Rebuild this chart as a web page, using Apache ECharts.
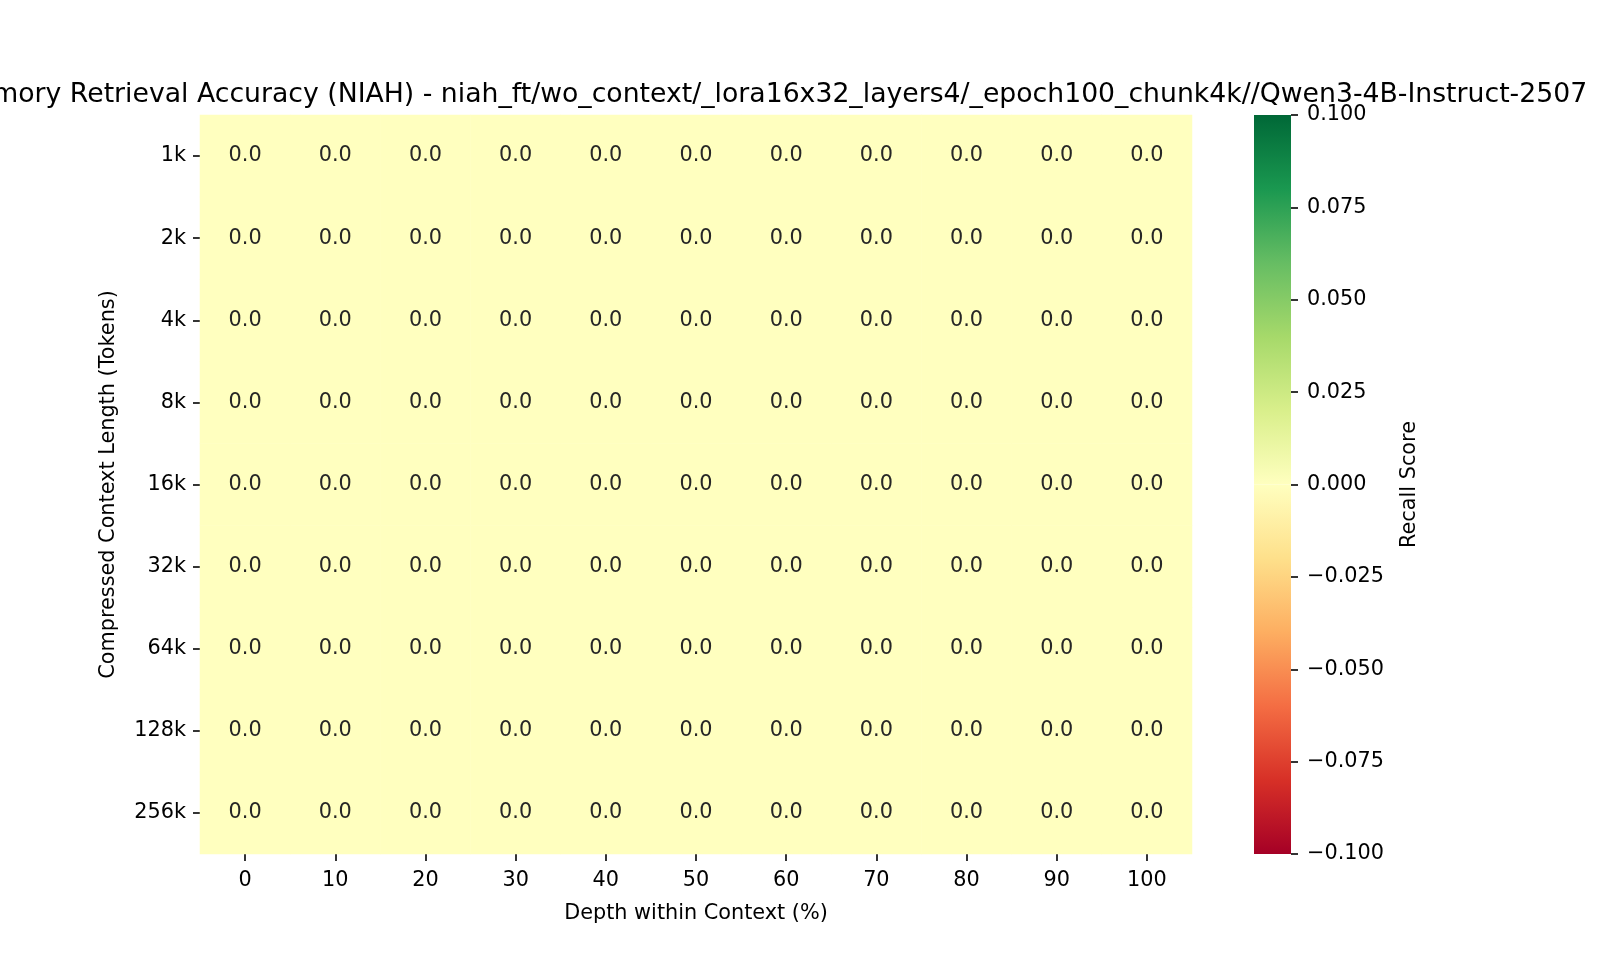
<!DOCTYPE html>
<html><head><meta charset="utf-8">
<script src="https://cdn.jsdelivr.net/npm/echarts@6/dist/echarts.min.js"></script>
<style>html,body{margin:0;padding:0;background:#fff}#c{width:1600px;height:960px}</style>
</head><body><div id="c"></div>
<script>
const titleText = 'Memory Retrieval Accuracy (NIAH) - niah_ft/wo_context/_lora16x32_layers4/_epoch100_chunk4k//Qwen3-4B-Instruct-2507';
const depths = ['0','10','20','30','40','50','60','70','80','90','100'];
const lengths = ['1k','2k','4k','8k','16k','32k','64k','128k','256k'];
// recall scores, rows = lengths, cols = depths
const scores = [
  [0,0,0,0,0,0,0,0,0,0,0],
  [0,0,0,0,0,0,0,0,0,0,0],
  [0,0,0,0,0,0,0,0,0,0,0],
  [0,0,0,0,0,0,0,0,0,0,0],
  [0,0,0,0,0,0,0,0,0,0,0],
  [0,0,0,0,0,0,0,0,0,0,0],
  [0,0,0,0,0,0,0,0,0,0,0],
  [0,0,0,0,0,0,0,0,0,0,0],
  [0,0,0,0,0,0,0,0,0,0,0]
];
const cbMin = -0.1, cbMax = 0.1, cbStep = 0.025;
const rdylgn = ['#a50026','#d73027','#f46d43','#fdae61','#fee08b','#ffffbf','#d9ef8b','#a6d96a','#66bd63','#1a9850','#006837'];

const data = [];
scores.forEach((row, r) => row.forEach((v, c) => data.push([c, r, v])));

function grad(colors) { // colors listed top -> bottom
  return new echarts.graphic.LinearGradient(0, 0, 0, 1,
    colors.map((c, i) => ({offset: i / (colors.length - 1), color: c})));
}
const upper = rdylgn.slice(5).reverse();   // 0.1 at top -> 0 at bottom
const lower = rdylgn.slice(0, 6).reverse(); // 0 at top -> -0.1 at bottom

const F = 'DejaVu Sans';
const FS = 20.8;
const tick = {show: true, length: 7, lineStyle: {color: '#000', width: 1.6}};
const chart = echarts.init(document.getElementById('c'));
chart.setOption({
  animation: false,
  textStyle: {fontFamily: F},
  title: {
    text: titleText, left: 765, top: 77, textAlign: 'center',
    textStyle: {fontFamily: F, fontSize: 26.7, fontWeight: 'normal', color: '#000'}
  },
  grid: [
    {left: 200, top: 115, width: 992, height: 739},
    {left: 1254, top: 115, width: 37, height: 739}
  ],
  xAxis: [
    {type: 'category', data: depths, gridIndex: 0, position: 'bottom',
     name: 'Depth within Context (%)', nameLocation: 'middle', nameGap: 49,
     nameTextStyle: {fontFamily: F, fontSize: FS, color: '#000'},
     axisLine: {show: false}, splitLine: {show: false},
     axisTick: Object.assign({alignWithLabel: true}, tick),
     axisLabel: {fontFamily: F, fontSize: FS, color: '#000', margin: 16}},
    {type: 'category', data: ['cb'], gridIndex: 1, show: false}
  ],
  yAxis: [
    {type: 'category', data: lengths, gridIndex: 0, inverse: true,
     name: 'Compressed Context Length (Tokens)', nameLocation: 'middle', nameGap: 81, nameRotate: 90,
     nameTextStyle: {fontFamily: F, fontSize: FS, color: '#000'},
     axisLine: {show: false}, splitLine: {show: false},
     axisTick: Object.assign({alignWithLabel: true}, tick),
     axisLabel: {fontFamily: F, fontSize: FS, color: '#000', margin: 14, padding: [3, 0, 0, 0]}},
    {type: 'value', gridIndex: 1, position: 'right', min: cbMin, max: cbMax, interval: cbStep,
     name: 'Recall Score', nameLocation: 'middle', nameGap: 108, nameRotate: 90,
     nameTextStyle: {fontFamily: F, fontSize: FS, color: '#000'},
     axisLine: {show: false}, splitLine: {show: false},
     axisTick: tick,
     axisLabel: {fontFamily: F, fontSize: FS, color: '#000', margin: 16, padding: [3, 0, 0, 0],
       formatter: v => { const s = Math.abs(v).toFixed(3); return (v < -1e-9 ? '\u2212' : '') + s; }}}
  ],
  visualMap: [{
    type: 'continuous', show: false, min: cbMin, max: cbMax, seriesIndex: 0, dimension: 2,
    inRange: {color: rdylgn}
  }],
  series: [
    {type: 'heatmap', xAxisIndex: 0, yAxisIndex: 0, data: data,
     label: {show: true, fontFamily: F, fontSize: FS, color: '#262626', padding: [2, 0, 0, 0],
       formatter: p => p.value[2].toFixed(1)},
     itemStyle: {borderWidth: 0}, emphasis: {disabled: true}},
    {type: 'bar', xAxisIndex: 1, yAxisIndex: 1, stack: 'cb', barWidth: '100%', silent: true,
     data: [cbMax], itemStyle: {color: grad(upper)}},
    {type: 'bar', xAxisIndex: 1, yAxisIndex: 1, stack: 'cb', barWidth: '100%', silent: true,
     data: [cbMin], itemStyle: {color: grad(lower)}}
  ]
});
</script></body></html>
